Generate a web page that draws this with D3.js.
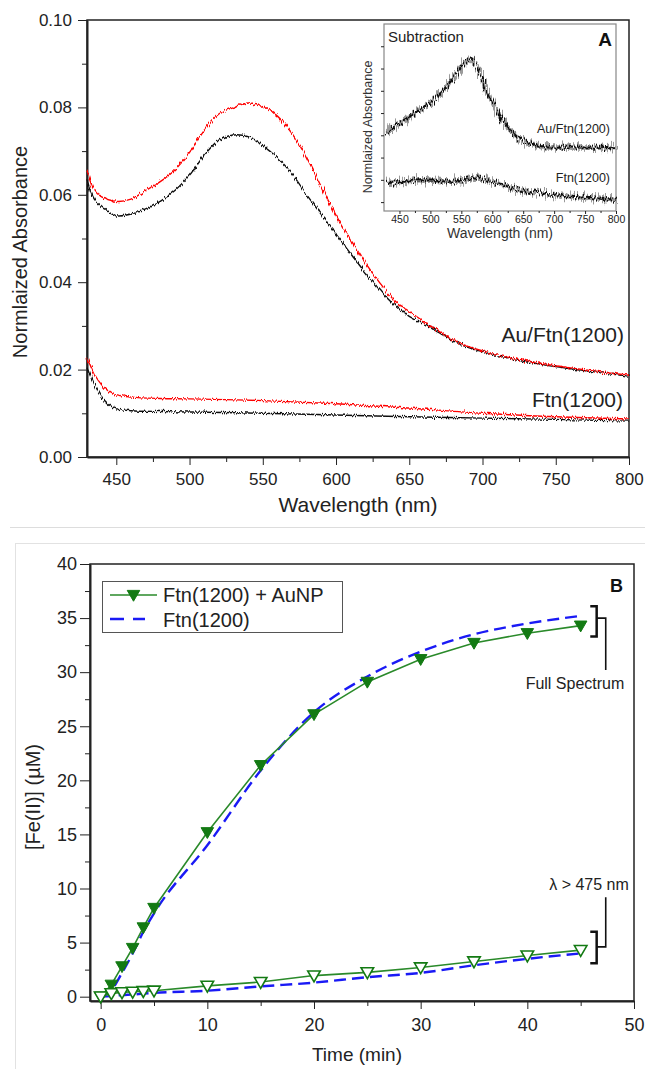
<!DOCTYPE html>
<html>
<head>
<meta charset="utf-8">
<script src="https://cdn.jsdelivr.net/npm/d3@7"></script>
<style>
  body { margin: 0; background: #fff; }
  svg { display: block; font-family: "Liberation Sans", Arial, sans-serif; }
  .axis path, .axis line { stroke: #222; }
  .axis text { fill: #222; }
</style>
</head>
<body>
<svg id="chart" width="645" height="1069"></svg>
<script>
// ---- Panel A: main spectra ----
const wlMain = [430, 435, 440, 450, 460, 470, 480, 490, 500, 510, 520, 530, 540, 550, 560, 570, 580, 590,
  600, 610, 620, 630, 640, 650, 660, 670, 680, 690, 700, 720, 740, 760, 780, 800];
const auRed = [0.0655, 0.061, 0.0595, 0.0585, 0.059, 0.061, 0.063, 0.0657, 0.0697, 0.0747, 0.0785, 0.080, 0.081,
  0.0803, 0.078, 0.074, 0.0685, 0.0618, 0.0553, 0.0497, 0.0444, 0.0398, 0.0358, 0.0333, 0.031, 0.0288, 0.0268,
  0.0253, 0.0243, 0.0226, 0.0214, 0.0204, 0.0195, 0.0187];
const auBlack = [0.0634, 0.059, 0.0572, 0.0552, 0.0556, 0.0568, 0.0585, 0.061, 0.0645, 0.069, 0.0725, 0.0737, 0.0733,
  0.0712, 0.0685, 0.0648, 0.0600, 0.0555, 0.0510, 0.0465, 0.0422, 0.0382, 0.0347, 0.0322, 0.0305, 0.0285, 0.0266,
  0.0251, 0.0241, 0.0224, 0.0212, 0.0202, 0.0193, 0.0185];

const wlLow = [430, 435, 440, 445, 450, 460, 480, 500, 550, 600, 650, 700, 750, 800];
const ftnRed = [0.0228, 0.019, 0.0165, 0.015, 0.0142, 0.0137, 0.0134, 0.0133, 0.0129, 0.0122, 0.0112, 0.0100, 0.0092, 0.0087];
const ftnBlack = [0.0204, 0.0165, 0.0135, 0.0118, 0.0110, 0.0106, 0.0104, 0.0103, 0.0100, 0.0096, 0.0092, 0.0089, 0.0086, 0.0082];

// inset (subtraction), arbitrary units
const wlInset = [430, 450, 475, 500, 525, 540, 550, 560, 565, 570, 580, 590, 600, 615, 630, 650, 675, 700, 750, 800];
const subAu = [3.1, 3.55, 4.0, 4.45, 5.15, 5.7, 6.1, 6.35, 6.4, 6.3, 5.8, 5.1, 4.5, 3.75, 3.2, 2.75, 2.5, 2.45, 2.45, 2.42];
const subFtn = [0.86, 0.9, 0.97, 0.97, 0.92, 0.92, 0.95, 1.0, 1.03, 1.05, 1.05, 0.98, 0.9, 0.8, 0.65, 0.5, 0.4, 0.32, 0.2, 0.1];

// ---- Panel B: kinetics ----
const timeMin = [0, 1, 2, 3, 4, 5, 10, 15, 20, 25, 30, 35, 40, 45];
const fullAuNP = [0, 1.1, 2.8, 4.5, 6.4, 8.2, 15.2, 21.4, 26.1, 29.1, 31.2, 32.7, 33.6, 34.3];
const fullFtn = [0, 0.6, 2.2, 4.0, 6.0, 7.7, 14.0, 20.9, 26.3, 29.6, 31.9, 33.5, 34.5, 35.2];
const visAuNP = [0, 0.3, 0.4, 0.45, 0.5, 0.55, 1.0, 1.35, 1.95, 2.25, 2.7, 3.25, 3.8, 4.3];
const visFtn = [0, 0.05, 0.15, 0.2, 0.28, 0.35, 0.55, 0.95, 1.3, 1.8, 2.2, 2.9, 3.5, 4.0];

const svg = d3.select("#chart");

// noise-like filters (styling only)
const defs = svg.append("defs");
function jitter(id, scale, seed, freq) {
  const f = defs.append("filter").attr("id", id)
    .attr("filterUnits", "userSpaceOnUse")
    .attr("x", 0).attr("y", 0).attr("width", 645).attr("height", 520);
  f.append("feTurbulence").attr("type", "fractalNoise")
    .attr("baseFrequency", freq).attr("numOctaves", 1).attr("seed", seed).attr("result", "t");
  f.append("feDisplacementMap").attr("in", "SourceGraphic").attr("in2", "t")
    .attr("scale", scale).attr("xChannelSelector", "R").attr("yChannelSelector", "G");
}
jitter("jitA", 6, 2, "0.9 0.06");
jitter("jitB", 6, 7, "0.9 0.06");
jitter("jitIn", 13, 4, "0.9 0.06");
jitter("jitIn2", 18, 9, "0.9 0.06");

// separators
svg.append("line").attr("x1", 10).attr("x2", 645).attr("y1", 527.5).attr("y2", 527.5)
  .attr("stroke", "#ddd");
svg.append("rect").attr("x", 15.5).attr("y", 543.5).attr("width", 640).attr("height", 600)
  .attr("fill", "none").attr("stroke", "#e2e2e2");

// ================= Panel A =================
const xA = d3.scaleLinear().domain([430, 800]).range([87, 629]);
const yA = d3.scaleLinear().domain([0, 0.10]).range([457, 20]);

const gA = svg.append("g");
gA.append("rect").attr("x", 87).attr("y", 20).attr("width", 542).attr("height", 437)
  .attr("fill", "none").attr("stroke", "#222").attr("stroke-width", 1.5);

gA.append("g").attr("class", "axis").attr("transform", "translate(0,457)")
  .call(d3.axisBottom(xA).tickValues(d3.range(475, 800, 50)).tickSize(5).tickFormat(""))
  .call(g => g.select(".domain").remove());
gA.append("g").attr("class", "axis").attr("transform", "translate(0,457)")
  .call(d3.axisBottom(xA).tickValues(d3.range(450, 801, 50)).tickSize(8).tickPadding(8).tickSizeOuter(0))
  .call(g => g.select(".domain").attr("stroke-width", 2))
  .call(g => g.selectAll("text").attr("font-size", 17));

gA.append("g").attr("class", "axis").attr("transform", "translate(87,0)")
  .call(d3.axisLeft(yA).tickValues([0.01, 0.03, 0.05, 0.07, 0.09]).tickSize(5).tickFormat(""))
  .call(g => g.select(".domain").remove());
gA.append("g").attr("class", "axis").attr("transform", "translate(87,0)")
  .call(d3.axisLeft(yA).tickValues(d3.range(0, 0.1001, 0.02)).tickSize(9).tickPadding(6)
    .tickSizeOuter(0).tickFormat(d3.format(".2f")))
  .call(g => g.select(".domain").attr("stroke-width", 2))
  .call(g => g.selectAll("text").attr("font-size", 17));

gA.append("text").attr("transform", "translate(27,252) rotate(-90)")
  .attr("text-anchor", "middle").attr("font-size", 20).attr("fill", "#222")
  .text("Normlaized Absorbance");
gA.append("text").attr("x", 358).attr("y", 512).attr("text-anchor", "middle")
  .attr("font-size", 21).attr("fill", "#222").text("Wavelength (nm)");

const lineA = (xs, ys) => d3.line().curve(d3.curveCatmullRom)
  .x((d, i) => xA(xs[i])).y(d => yA(d))(ys);

const specs = [
  { xs: wlLow, ys: ftnBlack, color: "#111", f: "jitA" },
  { xs: wlLow, ys: ftnRed, color: "#f00", f: "jitB" },
  { xs: wlMain, ys: auBlack, color: "#111", f: "jitB" },
  { xs: wlMain, ys: auRed, color: "#f00", f: "jitA" }
];
gA.selectAll(".spec").data(specs).enter().append("path")
  .attr("class", "spec")
  .attr("d", d => lineA(d.xs, d.ys))
  .attr("fill", "none").attr("stroke", d => d.color).attr("stroke-width", 1.4)
  .attr("filter", d => `url(#${d.f})`);

gA.append("text").attr("x", 624).attr("y", 342).attr("text-anchor", "end")
  .attr("font-size", 21).attr("fill", "#222").text("Au/Ftn(1200)");
gA.append("text").attr("x", 623).attr("y", 407).attr("text-anchor", "end")
  .attr("font-size", 21).attr("fill", "#222").text("Ftn(1200)");

// ---- inset ----
const xI = d3.scaleLinear().domain([425, 800]).range([384, 616]);
const yI = d3.scaleLinear().domain([-0.4, 8.0]).range([211, 24]);
const gI = svg.append("g");
gI.append("rect").attr("x", 384).attr("y", 24).attr("width", 232).attr("height", 187)
  .attr("fill", "#fff").attr("stroke", "#888").attr("stroke-width", 1.2);

gI.append("g").attr("class", "axis").attr("transform", "translate(0,211)")
  .call(d3.axisBottom(xI).tickValues(d3.range(475, 800, 50)).tickSize(2).tickFormat(""))
  .call(g => g.select(".domain").remove())
  .call(g => g.selectAll("line").attr("stroke", "#777"));
gI.append("g").attr("class", "axis").attr("transform", "translate(0,211)")
  .call(d3.axisBottom(xI).tickValues(d3.range(450, 801, 50)).tickSize(3).tickPadding(2).tickSizeOuter(0))
  .call(g => g.select(".domain").remove())
  .call(g => g.selectAll("line").attr("stroke", "#777"))
  .call(g => g.selectAll("text").attr("font-size", 10.5).attr("fill", "#333"));
gI.append("g").attr("class", "axis").attr("transform", "translate(384,0)")
  .call(d3.axisLeft(yI).tickValues(d3.range(0, 8)).tickSize(3).tickFormat("").tickSizeOuter(0))
  .call(g => g.select(".domain").remove())
  .call(g => g.selectAll("line").attr("stroke", "#777"));

gI.append("text").attr("transform", "translate(372,127) rotate(-90)")
  .attr("text-anchor", "middle").attr("font-size", 12.5).attr("fill", "#333")
  .text("Normlaized Absorbance");
gI.append("text").attr("x", 500).attr("y", 238).attr("text-anchor", "middle")
  .attr("font-size", 14).attr("fill", "#333").text("Wavelength (nm)");
gI.append("text").attr("x", 388).attr("y", 41.5)
  .attr("font-size", 15).attr("fill", "#222").text("Subtraction");
gI.append("text").attr("x", 612).attr("y", 46).attr("text-anchor", "end")
  .attr("font-size", 19).attr("font-weight", "bold").attr("fill", "#111").text("A");

const lineI = d3.line().curve(d3.curveCatmullRom).x((d, i) => xI(wlInset[i])).y(d => yI(d));
[subAu, subFtn].forEach(ys => {
  gI.append("path").attr("d", lineI(ys)).attr("fill", "none")
    .attr("stroke", "#999").attr("stroke-width", 4.5).attr("filter", "url(#jitIn2)");
  gI.append("path").attr("d", lineI(ys)).attr("fill", "none")
    .attr("stroke", "#111").attr("stroke-width", 2).attr("filter", "url(#jitIn)");
});
gI.append("text").attr("x", 610).attr("y", 132.5).attr("text-anchor", "end")
  .attr("font-size", 12.5).attr("fill", "#222").text("Au/Ftn(1200)");
gI.append("text").attr("x", 610).attr("y", 181.5).attr("text-anchor", "end")
  .attr("font-size", 12.5).attr("fill", "#222").text("Ftn(1200)");

// ================= Panel B =================
const xB = d3.scaleLinear().domain([-1, 50]).range([90, 634]);
const yB = d3.scaleLinear().domain([-0.4, 40]).range([1001, 564]);
const green = "#2a8a2a", darkGreen = "#137a13", blue = "#1a1af5";

const gB = svg.append("g");
gB.append("rect").attr("x", 90).attr("y", 564).attr("width", 544).attr("height", 437)
  .attr("fill", "none").attr("stroke", "#222").attr("stroke-width", 1.5);

gB.append("g").attr("class", "axis").attr("transform", "translate(0,1001)")
  .call(d3.axisBottom(xB).tickValues(d3.range(5, 50, 10)).tickSize(5).tickFormat(""))
  .call(g => g.select(".domain").remove());
gB.append("g").attr("class", "axis").attr("transform", "translate(0,1001)")
  .call(d3.axisBottom(xB).tickValues(d3.range(0, 51, 10)).tickSize(8).tickPadding(9).tickSizeOuter(0))
  .call(g => g.select(".domain").attr("stroke-width", 2))
  .call(g => g.selectAll("text").attr("font-size", 18));
gB.append("g").attr("class", "axis").attr("transform", "translate(90,0)")
  .call(d3.axisLeft(yB).tickValues(d3.range(2.5, 40, 5)).tickSize(5).tickFormat(""))
  .call(g => g.select(".domain").remove());
gB.append("g").attr("class", "axis").attr("transform", "translate(90,0)")
  .call(d3.axisLeft(yB).tickValues(d3.range(0, 41, 5)).tickSize(10).tickPadding(3).tickSizeOuter(0))
  .call(g => g.select(".domain").attr("stroke-width", 2))
  .call(g => g.selectAll("text").attr("font-size", 18));

gB.append("text").attr("transform", "translate(40,797) rotate(-90)")
  .attr("text-anchor", "middle").attr("font-size", 20).attr("fill", "#222")
  .text("[Fe(II)] (\u00b5M)");
gB.append("text").attr("x", 357).attr("y", 1061).attr("text-anchor", "middle")
  .attr("font-size", 19).attr("fill", "#222").text("Time (min)");
gB.append("text").attr("x", 623).attr("y", 592).attr("text-anchor", "end")
  .attr("font-size", 18).attr("font-weight", "bold").attr("fill", "#111").text("B");

const lineB = ys => d3.line().x((d, i) => xB(timeMin[i])).y(d => yB(d))(ys);
const curveB = ys => d3.line().curve(d3.curveMonotoneX).x((d, i) => xB(timeMin[i])).y(d => yB(d))(ys);

[fullFtn, visFtn].forEach(ys => {
  gB.append("path").attr("d", curveB(ys)).attr("fill", "none")
    .attr("stroke", blue).attr("stroke-width", 2.4).attr("stroke-dasharray", "12,6");
});
[fullAuNP, visAuNP].forEach(ys => {
  gB.append("path").attr("d", lineB(ys)).attr("fill", "none")
    .attr("stroke", green).attr("stroke-width", 1.6);
});

const tri = d3.symbol().type(d3.symbolTriangle).size(68);
gB.selectAll(".fullPt").data(fullAuNP).enter().append("path")
  .attr("class", "fullPt").attr("d", tri)
  .attr("transform", (d, i) => `translate(${xB(timeMin[i])},${yB(d) - 1}) rotate(180)`)
  .attr("fill", darkGreen).attr("stroke", darkGreen).attr("stroke-width", 1);
gB.selectAll(".visPt").data(visAuNP).enter().append("path")
  .attr("class", "visPt").attr("d", tri)
  .attr("transform", (d, i) => `translate(${xB(timeMin[i])},${yB(d) - 1}) rotate(180)`)
  .attr("fill", "#fff").attr("stroke", darkGreen).attr("stroke-width", 1.6);

// brackets
function bracket(lo, hi, mid, end) {
  const x0 = xB(45.9), x1 = xB(46.5), x2 = xB(47.35);
  gB.append("path")
    .attr("d", `M${x0},${yB(hi)}H${x1}V${yB(lo)}H${x0}`)
    .attr("fill", "none").attr("stroke", "#111").attr("stroke-width", 2.5);
  gB.append("path")
    .attr("d", `M${x1},${yB(mid)}H${x2}V${yB(end)}`)
    .attr("fill", "none").attr("stroke", "#111").attr("stroke-width", 1.6);
}
bracket(33.3, 36.1, 35.0, 30.2);
bracket(3.1, 6.0, 4.6, 9.2);
gB.append("text").attr("x", 575).attr("y", 689).attr("text-anchor", "middle")
  .attr("font-size", 16).attr("fill", "#222").text("Full Spectrum");
gB.append("text").attr("x", 589).attr("y", 890).attr("text-anchor", "middle")
  .attr("font-size", 16).attr("fill", "#222").text("\u03bb > 475 nm");

// legend
const lg = gB.append("g");
lg.append("rect").attr("x", 102.5).attr("y", 581.5).attr("width", 240).attr("height", 51)
  .attr("fill", "#fff").attr("stroke", "#555").attr("stroke-width", 1);
lg.append("line").attr("x1", 110).attr("x2", 157).attr("y1", 595).attr("y2", 595)
  .attr("stroke", green).attr("stroke-width", 1.6);
lg.append("path").attr("d", tri).attr("transform", "translate(133.5,594) rotate(180)")
  .attr("fill", darkGreen).attr("stroke", darkGreen);
lg.append("line").attr("x1", 110).attr("x2", 145).attr("y1", 619).attr("y2", 619)
  .attr("stroke", blue).attr("stroke-width", 2.4).attr("stroke-dasharray", "14,9");
lg.append("text").attr("x", 163).attr("y", 602).attr("font-size", 20).attr("fill", "#222")
  .text("Ftn(1200) + AuNP");
lg.append("text").attr("x", 163).attr("y", 627).attr("font-size", 20).attr("fill", "#222")
  .text("Ftn(1200)");
</script>
</body>
</html>
